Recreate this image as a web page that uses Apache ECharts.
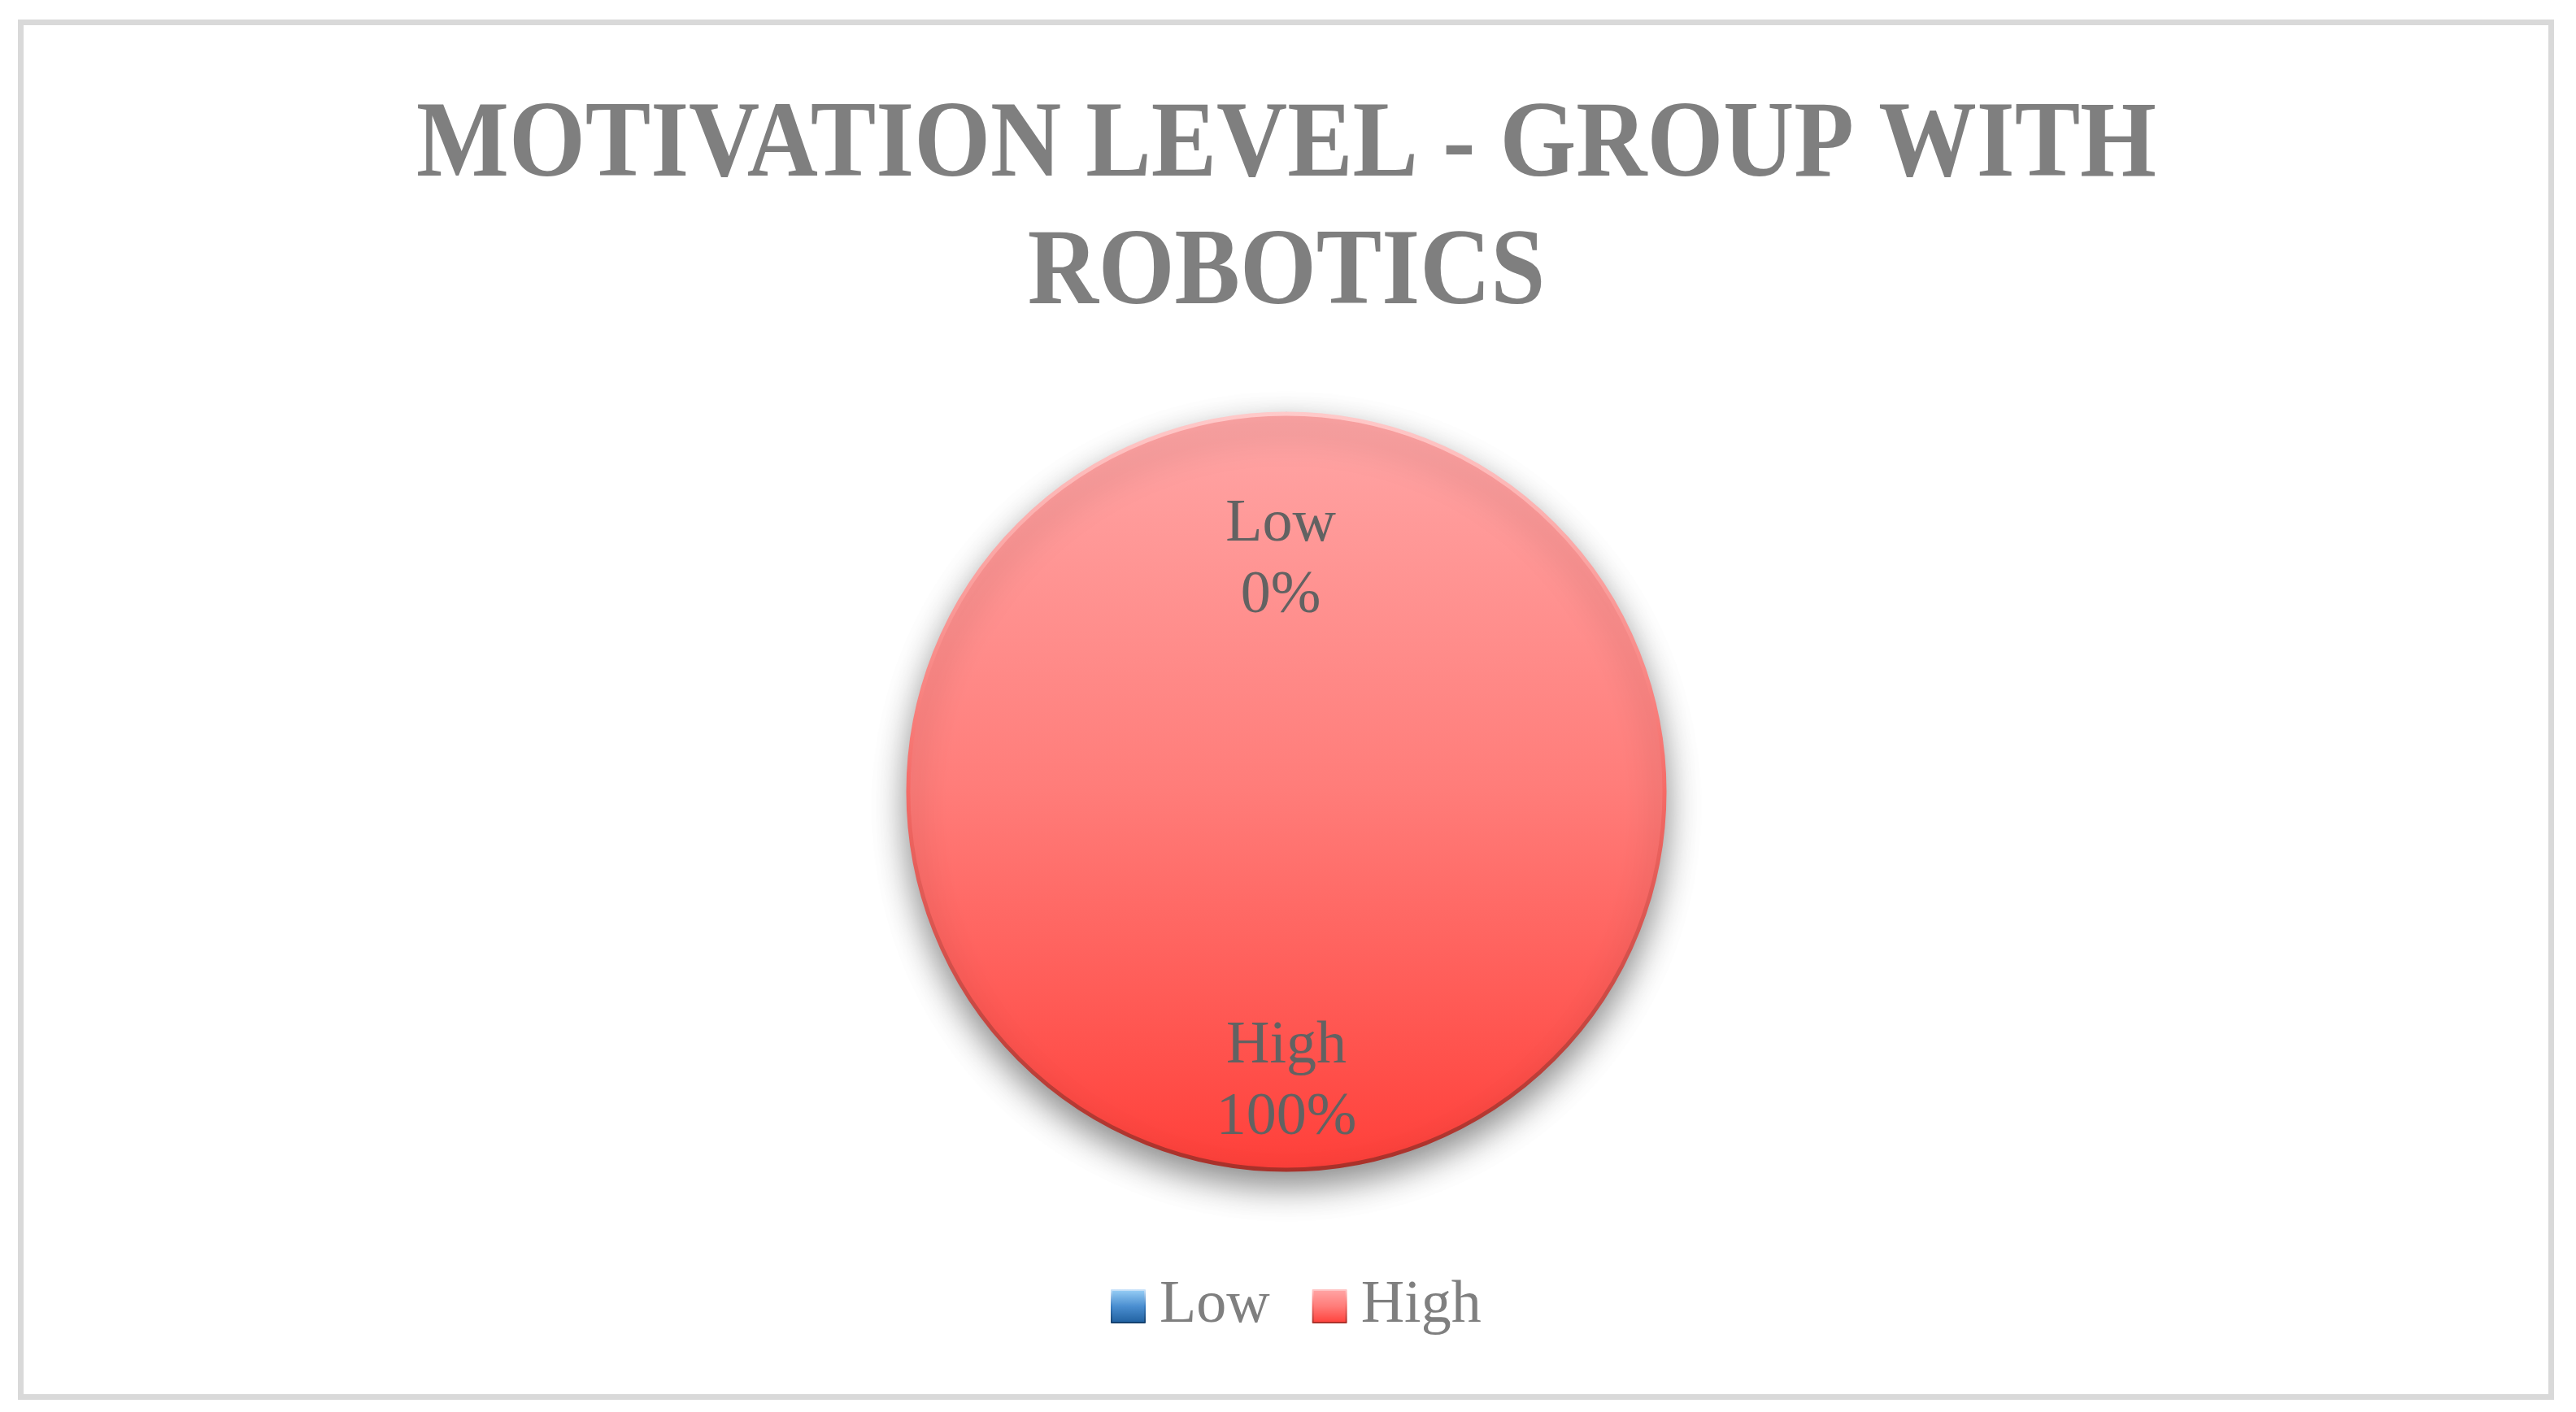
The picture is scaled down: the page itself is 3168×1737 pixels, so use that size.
<!DOCTYPE html>
<html>
<head>
<meta charset="utf-8">
<script src="https://cdn.jsdelivr.net/npm/echarts@6/dist/echarts.min.js"></script>
<style>
html,body{margin:0;padding:0;background:#fff;}
#chart{width:3168px;height:1737px;}
</style>
</head>
<body>
<div id="chart"></div>
<script>
const titleLines = ['MOTIVATION LEVEL - GROUP WITH', 'ROBOTICS'];
const categories = ['Low', 'High'];
const values = [0, 100];
const sliceColors = [
  ['#9ad0f7', '#4a8ed0', '#1f5f9e'],
  ['#ffa6a6', '#ff7c79', '#ff3f39']
];

const chart = echarts.init(document.getElementById('chart'));
const serif = '"Liberation Serif", "DejaVu Serif", serif';

function grad(c) {
  return new echarts.graphic.LinearGradient(0, 0, 0, 1, [
    { offset: 0, color: c[0] },
    { offset: 0.5, color: c[1] },
    { offset: 1, color: c[2] }
  ]);
}

const labelOffsets = [[-7, -49], [0, 122]];

const option = {
  backgroundColor: '#ffffff',
  animation: false,
  graphic: [
    {
      type: 'rect',
      shape: { x: 25.5, y: 27.5, width: 3112, height: 1691 },
      style: { fill: 'none', stroke: '#d9d9d9', lineWidth: 7 },
      silent: true
    },
    {
      type: 'text',
      x: 1582, y: 181, scaleX: 0.9,
      style: {
        text: titleLines[0], fill: '#7f7f7f',
        font: 'bold 134px ' + serif,
        align: 'center', verticalAlign: 'middle'
      }
    },
    {
      type: 'text',
      x: 1582, y: 338, scaleX: 0.9,
      style: {
        text: titleLines[1], fill: '#7f7f7f',
        font: 'bold 134px ' + serif,
        align: 'center', verticalAlign: 'middle'
      }
    }
  ],
  legend: {
    data: categories,
    left: 1361,
    top: 1562,
    itemWidth: 41,
    itemHeight: 40,
    itemGap: 52,
    icon: 'rect',
    textStyle: {
      fontFamily: serif,
      fontSize: 74,
      color: '#7f7f7f',
      lineHeight: 80,
      padding: [0, 0, 0, 13]
    }
  },
  series: [{
    type: 'pie',
    center: [1582, 974],
    radius: 465,
    startAngle: 90,
    clockwise: true,
    avoidLabelOverlap: false,
    label: {
      show: true,
      position: 'inside',
      formatter: '{b}\n{d}%',
      fontFamily: serif,
      fontSize: 74,
      lineHeight: 88,
      color: '#626262'
    },
    labelLine: { show: false },
    emphasis: { disabled: true },
    data: categories.map((name, i) => ({
      name: name,
      value: values[i],
      label: { offset: labelOffsets[i] },
      itemStyle: {
        color: grad(sliceColors[i]),
        borderWidth: 5,
        borderColor: new echarts.graphic.LinearGradient(0, 0, 0, 1, [
          { offset: 0, color: i === 1 ? '#ffcaca' : '#cfe6fb' },
          { offset: 0.5, color: i === 1 ? '#f56a66' : '#3a7fc4' },
          { offset: 1, color: i === 1 ? '#a83029' : '#143f6b' }
        ]),
        shadowBlur: 40,
        shadowOffsetY: 18,
        shadowColor: 'rgba(0,0,0,0.45)'
      }
    }))
  }]
};
chart.setOption(option);
</script>
</body>
</html>
